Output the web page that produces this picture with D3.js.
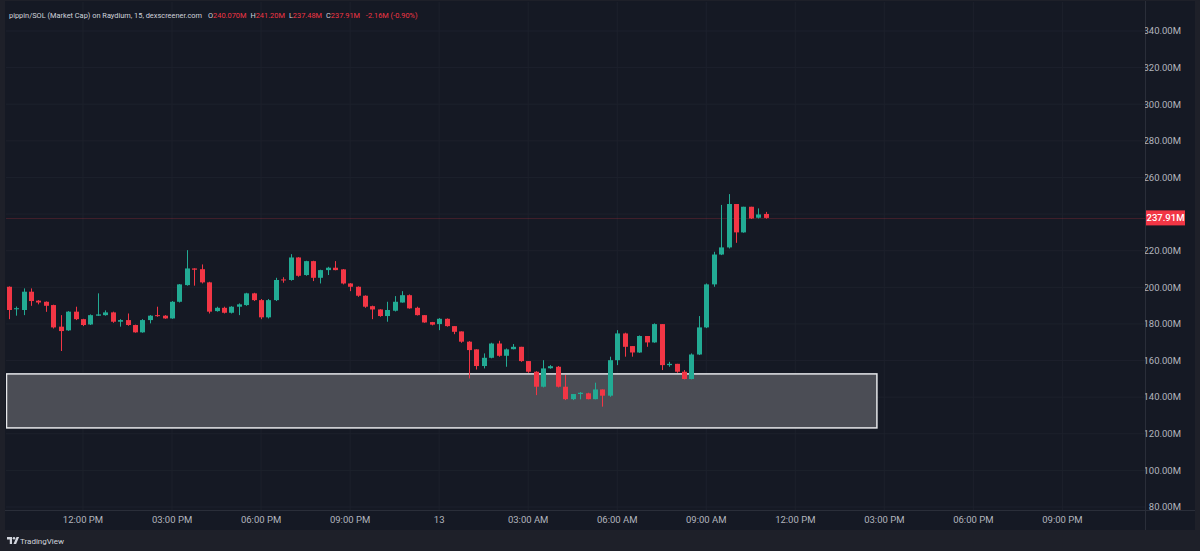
<!DOCTYPE html>
<html lang="en">
<head>
    <meta charset="UTF-8">
    <title>pippin/SOL (Market Cap)</title>
    <style>
        body {
            margin: 0;
            padding: 0;
            background: #1e2029;
            font-family: Roboto, "Noto Sans", sans-serif;
        }
        svg text {
            font-family: Roboto, "Noto Sans", sans-serif;
        }
    </style>
</head>
<body>
    <div id="chart"></div>

    <script src="https://d3js.org/d3.v7.min.js"></script>
    <script>
        // 15 minute candles, market cap in millions, first candle 12th 09:30
        const firstCandle = Date.UTC(2024, 10, 12, 9, 30);
        const candleMinutes = 15;

        const opens = [
            200.3, 188.0, 187.6, 197.6, 192.7, 192.1, 190.3, 178.5, 176.5, 186.7,
            182.6, 179.7, 184.5, 184.8, 186.3, 181.2, 182.1, 179.4, 175.4, 182.1,
            184.8, 184.5, 183.0, 192.1, 201.2, 210.3, 209.9, 202.7, 187.0, 188.8,
            186.1, 189.4, 190.3, 196.7, 193.0, 183.6, 193.0, 204.3, 204.0, 216.3,
            206.7, 214.3, 205.2, 209.4, 210.7, 209.8, 202.1, 200.3, 195.4, 189.7,
            187.9, 184.3, 187.2, 191.7, 195.7, 188.8, 184.8, 181.0, 179.9, 182.8,
            178.8, 175.9, 170.3, 166.1, 157.0, 161.5, 169.3, 162.6, 166.2, 167.5,
            159.7, 153.9, 145.7, 155.8, 156.6, 145.7, 138.9, 141.7, 142.1, 138.9,
            144.2, 140.8, 160.2, 174.8, 167.9, 164.4, 173.4, 169.9, 179.9, 157.5,
            158.2, 153.9, 149.9, 163.3, 178.1, 201.6, 217.9, 221.8, 245.5, 230.0,
            244.0, 238.0, 240.07
        ];
        const highs = [
            200.5, 189.5, 199.4, 199.4, 193.0, 192.3, 190.5, 184.8, 187.0, 189.4,
            182.8, 185.2, 196.7, 187.4, 186.7, 182.6, 185.7, 179.6, 182.6, 184.8,
            189.4, 184.8, 192.5, 201.8, 220.3, 210.4, 212.5, 203.0, 189.4, 189.4,
            189.7, 191.2, 197.0, 197.0, 193.6, 193.6, 205.2, 205.5, 218.1, 216.5,
            214.5, 214.5, 209.6, 211.2, 214.3, 210.0, 202.3, 200.5, 195.6, 190.0,
            188.0, 192.1, 195.2, 197.9, 196.1, 189.4, 184.8, 181.1, 183.2, 183.0,
            178.8, 175.9, 170.6, 166.1, 163.9, 169.7, 170.8, 166.6, 169.0, 167.5,
            159.7, 154.2, 160.2, 157.5, 157.0, 152.1, 141.7, 142.8, 142.4, 147.9,
            144.2, 162.1, 176.6, 175.2, 167.9, 173.7, 173.4, 180.3, 179.9, 159.3,
            158.2, 154.8, 163.9, 184.3, 202.1, 219.4, 245.0, 250.9, 245.5, 244.0,
            244.0, 243.1, 241.2
        ];
        const lows = [
            182.6, 184.5, 184.8, 189.9, 190.7, 186.6, 177.5, 165.2, 176.2, 182.1,
            178.8, 179.4, 184.4, 184.5, 180.6, 178.5, 179.0, 175.2, 175.2, 180.3,
            183.9, 182.8, 182.8, 191.7, 200.9, 200.9, 202.1, 185.7, 186.7, 185.7,
            185.7, 184.8, 189.9, 192.5, 182.6, 183.0, 192.5, 202.5, 203.6, 205.8,
            206.3, 203.4, 202.1, 206.7, 209.3, 201.6, 197.9, 194.8, 188.8, 182.6,
            183.9, 181.2, 186.8, 191.6, 188.3, 184.6, 180.6, 179.2, 176.6, 178.5,
            174.4, 169.7, 150.2, 155.1, 155.7, 161.2, 162.1, 156.6, 166.1, 159.3,
            153.3, 141.1, 145.3, 155.5, 145.3, 138.4, 138.4, 138.8, 138.8, 138.8,
            134.8, 140.2, 157.5, 162.1, 162.1, 164.2, 167.5, 169.7, 154.8, 156.6,
            153.3, 149.7, 149.7, 163.0, 177.7, 200.3, 217.6, 221.2, 224.3, 229.8,
            237.3, 237.6, 237.48
        ];
        const closes = [
            187.6, 188.6, 197.6, 192.5, 191.7, 189.9, 178.1, 176.1, 186.7, 182.6,
            179.4, 184.8, 185.2, 186.3, 181.2, 182.1, 179.4, 175.4, 182.1, 184.5,
            184.3, 183.0, 192.1, 201.6, 210.3, 209.6, 202.7, 186.7, 188.8, 186.1,
            189.4, 190.7, 196.7, 193.0, 183.6, 193.0, 204.0, 204.0, 216.3, 206.3,
            214.3, 205.2, 209.4, 210.7, 209.4, 202.1, 200.3, 195.4, 189.4, 187.9,
            184.3, 187.6, 192.1, 195.7, 188.5, 184.8, 180.8, 179.6, 182.8, 178.8,
            175.7, 170.3, 165.7, 157.0, 161.5, 169.3, 162.6, 166.1, 167.5, 159.7,
            153.9, 145.7, 155.7, 156.9, 145.7, 138.9, 141.7, 142.4, 138.9, 144.2,
            140.8, 160.2, 174.8, 167.5, 164.4, 173.4, 169.9, 179.9, 157.5, 158.2,
            153.9, 149.9, 163.3, 178.1, 201.6, 217.9, 221.8, 245.5, 230.0, 244.0,
            237.6, 239.8, 237.91
        ];

        // demand zone drawn on the chart
        const zoneTop = 152.7;
        const zoneBottom = 123.2;
        const zoneEnd = Date.UTC(2024, 10, 13, 14, 45);

        const yTicks = [80, 100, 120, 140, 160, 180, 200, 220, 240, 260, 280, 300, 320, 340];
        const lastPrice = 237.91;

        const title = "pippin/SOL (Market Cap) on Raydium, 15, dexscreener.com";
        const legend = [
            ["O", "240.070M"], ["H", "241.20M"], ["L", "237.48M"], ["C", "237.91M"], ["", "-2.16M (-0.90%)"]
        ];

        const width = 1200, height = 551;
        const plot = { left: 6, right: 1145, top: 2, bottom: 510 };
        const up = "#22ab94", down = "#f23645";

        const candles = opens.map((o, i) => ({
            t: new Date(firstCandle + i * candleMinutes * 60000),
            o: o, h: highs[i], l: lows[i], c: closes[i]
        }));

        const x = d3.scaleUtc()
            .domain([Date.UTC(2024, 10, 12, 9, 24, 20), Date.UTC(2024, 10, 13, 23, 47)])
            .range([plot.left, plot.right]);
        const y = d3.scaleLinear()
            .domain([80, 340])
            .range([507, 31]);

        const svg = d3.select("#chart").append("svg")
            .attr("width", width)
            .attr("height", height)
            .style("display", "block");

        svg.append("rect").attr("width", width).attr("height", height).attr("fill", "#1e2029");
        svg.append("rect")
            .attr("x", 5).attr("y", 1)
            .attr("width", 1190).attr("height", 529)
            .attr("fill", "#151924");

        const defs = svg.append("defs");
        defs.append("clipPath").attr("id", "plotClip").append("rect")
            .attr("x", plot.left).attr("y", plot.top)
            .attr("width", plot.right - plot.left).attr("height", plot.bottom - plot.top);
        defs.append("clipPath").attr("id", "yAxisClip").append("rect")
            .attr("x", plot.right).attr("y", plot.top)
            .attr("width", 50).attr("height", plot.bottom - plot.top);

        const xTicks = d3.utcHour.every(3).range(x.domain()[0], x.domain()[1])
            .filter(d => x(d) > plot.left + 10);
        const fmtTime = d3.utcFormat("%I:%M %p");

        // grid
        const grid = svg.append("g").attr("clip-path", "url(#plotClip)");
        grid.selectAll("line.v").data(xTicks).enter().append("line")
            .attr("x1", d => x(d)).attr("x2", d => x(d))
            .attr("y1", plot.top).attr("y2", plot.bottom)
            .attr("stroke", "#1d212c");
        grid.selectAll("line.h").data(yTicks).enter().append("line")
            .attr("x1", plot.left).attr("x2", plot.right)
            .attr("y1", d => y(d)).attr("y2", d => y(d))
            .attr("stroke", "#1d212c");

        const chart = svg.append("g").attr("clip-path", "url(#plotClip)");

        chart.append("rect")
            .attr("x", plot.left + 0.5)
            .attr("y", y(zoneTop))
            .attr("width", x(zoneEnd) - plot.left - 0.5)
            .attr("height", y(zoneBottom) - y(zoneTop))
            .attr("fill", "#4b4d55")
            .attr("stroke", "#e6e7ea")
            .attr("stroke-width", 1.5);

        chart.append("line")
            .attr("x1", plot.left).attr("x2", plot.right)
            .attr("y1", Math.round(y(lastPrice)) + 0.5).attr("y2", Math.round(y(lastPrice)) + 0.5)
            .attr("stroke", down).attr("stroke-opacity", 0.2);

        const bodyW = 5;
        chart.selectAll("line.wick").data(candles).enter().append("line")
            .attr("class", "wick")
            .attr("x1", d => Math.round(x(d.t)) + 0.5)
            .attr("x2", d => Math.round(x(d.t)) + 0.5)
            .attr("y1", d => y(d.h)).attr("y2", d => y(d.l))
            .attr("stroke", d => d.c >= d.o ? up : down);
        chart.selectAll("rect.body").data(candles).enter().append("rect")
            .attr("class", "body")
            .attr("x", d => Math.round(x(d.t)) + 0.5 - bodyW / 2)
            .attr("y", d => y(Math.max(d.o, d.c)))
            .attr("width", bodyW)
            .attr("height", d => Math.max(1, Math.abs(y(d.o) - y(d.c))))
            .attr("fill", d => d.c >= d.o ? up : down);

        // axes frame
        svg.append("line")
            .attr("x1", 5).attr("x2", 1195)
            .attr("y1", plot.bottom + 0.5).attr("y2", plot.bottom + 0.5)
            .attr("stroke", "#2a2e39");
        svg.append("line")
            .attr("x1", plot.right + 0.5).attr("x2", plot.right + 0.5)
            .attr("y1", 1).attr("y2", 530)
            .attr("stroke", "#2a2e39");

        // tick labels hidden behind the last price tag are left out, as on the chart
        svg.append("g").attr("clip-path", "url(#yAxisClip)")
            .selectAll("text").data(yTicks.filter(d => Math.abs(y(d) - y(lastPrice)) > 12))
            .enter().append("text")
            .attr("x", 1181)
            .attr("y", d => y(d))
            .attr("dy", "0.35em")
            .attr("text-anchor", "end")
            .attr("font-size", "9.5px")
            .attr("fill", "#b2b5be")
            .text(d => d.toFixed(2) + "M");

        svg.selectAll("text.xlab").data(xTicks).enter().append("text")
            .attr("class", "xlab")
            .attr("x", d => x(d))
            .attr("y", 520)
            .attr("dy", "0.35em")
            .attr("text-anchor", "middle")
            .attr("font-size", "9.5px")
            .attr("fill", "#b2b5be")
            .text(d => d.getUTCHours() === 0 ? d3.utcFormat("%-d")(d) : fmtTime(d));

        // last price tag
        svg.append("rect")
            .attr("x", plot.right + 1).attr("y", y(lastPrice) - 7.5)
            .attr("width", 39).attr("height", 15)
            .attr("fill", down);
        svg.append("text")
            .attr("x", plot.right + 20.5).attr("y", y(lastPrice))
            .attr("dy", "0.35em")
            .attr("text-anchor", "middle")
            .attr("font-size", "9.5px")
            .attr("font-weight", 500)
            .attr("fill", "#ffffff")
            .text(lastPrice.toFixed(2) + "M");

        // legend line
        const head = svg.append("text")
            .attr("x", 9).attr("y", 15)
            .attr("dy", "0.35em")
            .attr("font-size", "7.4px")
            .attr("fill", "#d1d4dc")
            .text(title);
        legend.forEach(([k, v], i) => {
            head.append("tspan").attr("dx", i === 0 ? 6 : 4).attr("fill", "#d1d4dc").text(k || "\u00a0");
            head.append("tspan").attr("fill", down).text(v);
        });

        // TradingView mark
        const logo = svg.append("g").attr("transform", "translate(7,537)");
        logo.append("path").attr("d", "M0 0h5v7h-2.2v-4.6h-2.8z M9.5 0h2.6l-3 7h-2.6z").attr("fill", "#d1d4dc");
        logo.append("circle").attr("cx", 7).attr("cy", 1.3).attr("r", 1.3).attr("fill", "#d1d4dc");
        svg.append("text")
            .attr("x", 20).attr("y", 541)
            .attr("dy", "0.35em")
            .attr("font-size", "8px")
            .attr("fill", "#d1d4dc")
            .text("TradingView");
    </script>
</body>
</html>
